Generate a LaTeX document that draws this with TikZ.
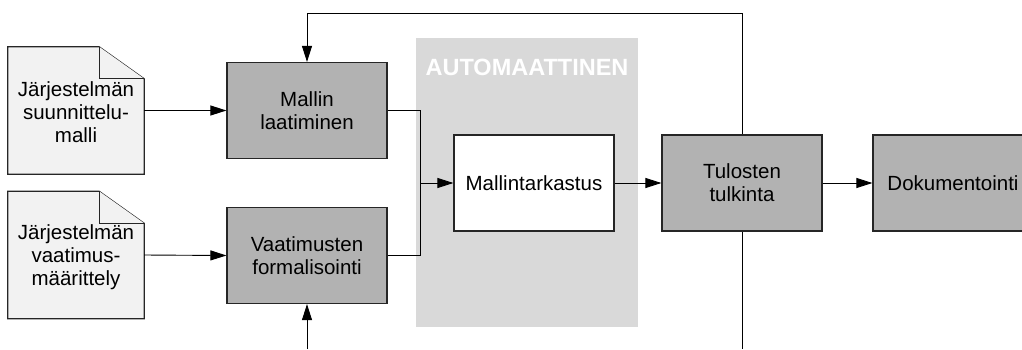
\documentclass[tikz,border=0pt]{standalone}
\usepackage{fontspec}
\setmainfont{Liberation Sans}
\usetikzlibrary{arrows.meta,positioning}
\definecolor{boxgray}{HTML}{B2B2B2}
\definecolor{autogray}{HTML}{D9D9D9}
\definecolor{docfill}{HTML}{F2F2F2}
\definecolor{edge}{HTML}{262626}
\tikzset{
  procbox/.style={draw=edge, line width=1.2pt, fill=boxgray, minimum width=160pt, minimum height=96pt, inner sep=0pt, align=center, font=\fontsize{20.5}{23}\selectfont},
  whitebox/.style={procbox, fill=white},
  docnode/.style={minimum width=136pt, minimum height=127pt, inner sep=0pt, align=center, font=\fontsize{20.5}{23}\selectfont},
  docshape/.style={draw=edge, line width=1.2pt, fill=docfill},
  arr/.style={draw=black, line width=0.9pt, -{Triangle[length=16pt,width=10pt]}},
  ln/.style={draw=black, line width=0.9pt},
}
\begin{document}
\begin{tikzpicture}[x=1pt,y=-1pt]
\clip (0,0) rectangle (1022,349);
\fill[white] (0,0) rectangle (1022,349);
% automatic region
\fill[autogray] (416,38) rectangle (638,327);
\node[text=white, font=\fontsize{23.5}{26}\selectfont\bfseries] (autolbl) at (527,67) {AUTOMAATTINEN};
% documents
\node[docnode] (doc1) at (76,110.5) {};
\draw[docshape] (doc1.south west) -- (doc1.north west) -- ([xshift=-45pt]doc1.north east) -- ([yshift=-32pt]doc1.north east) -- (doc1.south east) -- cycle;
\draw[docshape] ([xshift=-45pt]doc1.north east) -- ([xshift=-45pt,yshift=-32pt]doc1.north east) -- ([yshift=-32pt]doc1.north east);
\node[docnode] (doc1t) at (76,112) {Järjestelmän\\suunnittelu-\\malli};
\node[docnode] (doc2) at (76,255) {};
\draw[docshape] (doc2.south west) -- (doc2.north west) -- ([xshift=-45pt]doc2.north east) -- ([yshift=-32pt]doc2.north east) -- (doc2.south east) -- cycle;
\draw[docshape] ([xshift=-45pt]doc2.north east) -- ([xshift=-45pt,yshift=-32pt]doc2.north east) -- ([yshift=-32pt]doc2.north east);
\node[docnode] (doc2t) at (76,257) {Järjestelmän\\vaatimus-\\määrittely};
% process boxes
\node[procbox] (m1) at (307,110.5) {Mallin\\laatiminen};
\node[procbox] (v1) at (307,255.5) {Vaatimusten\\formalisointi};
\node[whitebox] (mk) at (534,183) {Mallintarkastus};
\node[procbox] (tt) at (742,183) {Tulosten\\tulkinta};
\node[procbox] (dk) at (953,183) {Dokumentointi};
% coordinates
\coordinate (jx) at (420,183);
\coordinate (fbtop) at (742,13);
\coordinate (bot) at (742,349);
\coordinate (vin) at (307,349);
% connectors
\draw[arr] (doc1.east) -- (m1.west);
\draw[arr] (doc2.east) -- (v1.west);
\draw[ln] (m1.east) -- (m1.east -| jx) -- (v1.east -| jx) -- (v1.east);
\draw[arr] (jx) -- (mk.west);
\draw[arr] (mk.east) -- (tt.west);
\draw[arr] (tt.east) -- (dk.west);
\draw[arr] (tt.north) -- (fbtop) -| (m1.north);
\draw[ln] (tt.south) -- (bot);
\draw[arr] (vin) -- (v1.south);
\end{tikzpicture}
\end{document}
